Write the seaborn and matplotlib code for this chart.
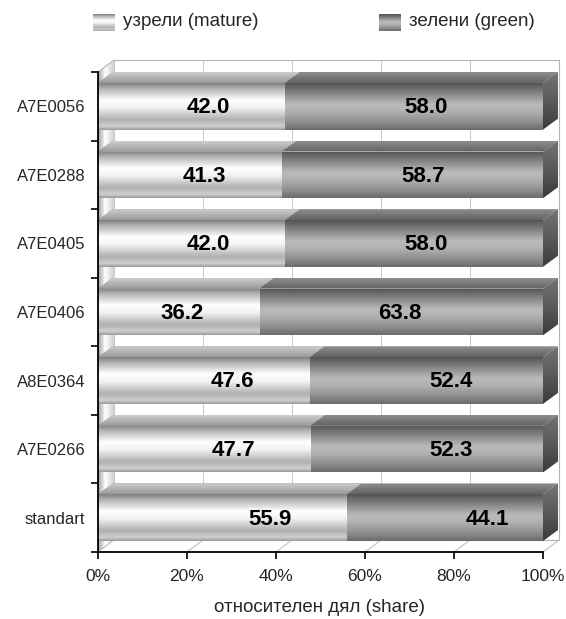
import numpy as np
import pandas as pd
import matplotlib
matplotlib.use("Agg")
import matplotlib.pyplot as plt
import seaborn as sns
from matplotlib.colors import LinearSegmentedColormap
from matplotlib.patches import Polygon

# ---- data -------------------------------------------------------------
categories = ["A7E0056", "A7E0288", "A7E0405", "A7E0406", "A8E0364", "A7E0266", "standart"]
mature = [42.0, 41.3, 42.0, 36.2, 47.6, 47.7, 55.9]
green = [58.0, 58.7, 58.0, 63.8, 52.4, 52.3, 44.1]
x_ticks = [0, 20, 40, 60, 80, 100]
x_tick_labels = ["0%", "20%", "40%", "60%", "80%", "100%"]
series_names = ["узрели (mature)", "зелени (green)"]
x_label = "относителен дял (share)"

sns.set_theme(style="white")
plt.rcParams["font.family"] = ["Liberation Sans", "DejaVu Sans"]

W, H = 566, 619
fig = plt.figure(figsize=(W / 100, H / 100), dpi=100)
fig.patch.set_facecolor("white")

# front plane of the plot box (pixels, origin top-left)
PX0, PX1, PY0, PY1 = 98, 543, 72, 552
ax = fig.add_axes([PX0 / W, 1 - PY1 / H, (PX1 - PX0) / W, (PY1 - PY0) / H])
ax.patch.set_visible(False)

df = pd.DataFrame({"line": categories, "mature": mature, "green": green})
df["total"] = df["mature"] + df["green"]

BAR_W = 0.68
sns.barplot(data=df, y="line", x="total", order=categories, orient="h",
            color="#888888", width=BAR_W, saturation=1, errorbar=None, ax=ax)
sns.barplot(data=df, y="line", x="mature", order=categories, orient="h",
            color="#eeeeee", width=BAR_W, saturation=1, errorbar=None, ax=ax)

n = len(categories)
ax.set_xlim(0, 100)
ax.set_ylim(n - 0.5, -0.5)

# pixel -> data scale factors for the oblique projection
sx = 100.0 / (PX1 - PX0)
sy = n / (PY1 - PY0)
bdx, bdy = 15 * sx, -11 * sy      # depth of the bars
wdx, wdy = 16 * sx, -12 * sy      # depth of walls / floor


def grad_poly(xy, stops, z, horizontal=False, clip_patch=None):
    cmap = LinearSegmentedColormap.from_list("g", stops)
    g = np.linspace(0, 1, 256)
    arr = g[None, :] if horizontal else g[:, None]
    xy = np.asarray(xy)
    x0, x1 = xy[:, 0].min(), xy[:, 0].max()
    y0, y1 = xy[:, 1].min(), xy[:, 1].max()
    if clip_patch is None:
        clip_patch = Polygon(xy, closed=True, facecolor="none", edgecolor="none", zorder=z)
        ax.add_patch(clip_patch)
        clip_patch.set_clip_on(False)
    im = ax.imshow(arr, cmap=cmap, vmin=0, vmax=1, extent=(x0, x1, y1, y0),
                   origin="upper", aspect="auto", interpolation="bilinear", zorder=z)
    im.set_clip_box(fig.bbox)
    im.set_clip_path(clip_patch)
    return im


# ---- walls and floor ---------------------------------------------------
top, bot = -0.5, n - 0.5
left_wall = [(0, top), (wdx, top + wdy), (wdx, bot + wdy), (0, bot)]
grad_poly(left_wall, [(0, "#9c9c9c"), (0.45, "#ffffff"), (1, "#d0d0d0")], 1, horizontal=True)
edge_kw = dict(color="#b4b4b4", lw=0.8, zorder=1.2, clip_on=False)
ax.plot([wdx, 100 + wdx], [top + wdy, top + wdy], **edge_kw)
ax.plot([100 + wdx, 100 + wdx], [top + wdy, bot + wdy], **edge_kw)
ax.plot([wdx, 100 + wdx], [bot + wdy, bot + wdy], **edge_kw)
ax.plot([0, wdx], [top, top + wdy], **edge_kw)
for xv in x_ticks:
    ax.plot([xv + wdx, xv + wdx], [top + wdy, bot + wdy], color="#c8c8c8", lw=0.7,
            zorder=1.1, clip_on=False)
    ax.plot([xv, xv + wdx], [bot, bot + wdy], color="#c0c0c0", lw=0.8, zorder=1.1,
            clip_on=False)

# ---- 3-D bars ----------------------------------------------------------
front_mature = [(0, "#7e7e7e"), (0.12, "#b4b4b4"), (0.36, "#ffffff"), (0.52, "#f2f2f2"),
                (0.78, "#b0b0b0"), (0.92, "#cfcfcf"), (1, "#9a9a9a")]
front_green = [(0, "#525252"), (0.15, "#767676"), (0.45, "#bababa"), (0.6, "#b2b2b2"),
               (0.85, "#8a8a8a"), (1, "#6a6a6a")]
top_mature = [(0, "#cdcdcd"), (1, "#9a9a9a")]
top_green = [(0, "#8e8e8e"), (1, "#626262")]
side_green = [(0, "#747474"), (0.5, "#5a5a5a"), (1, "#3a3a3a")]

patches = list(ax.patches)
total_bars = patches[:n]
mature_bars = patches[n:2 * n]

# data labels sit a fixed distance either side of the split between segments
lab_left, lab_right = 77 * sx, 141 * sx

for i in range(n):
    zb = 3 + (n - 1 - i) * 0.1
    for rect, ftop, fface in ((total_bars[i], top_green, front_green),
                              (mature_bars[i], top_mature, front_mature)):
        x0 = rect.get_x()
        x1 = x0 + rect.get_width()
        yt = min(rect.get_y(), rect.get_y() + rect.get_height())
        yb = max(rect.get_y(), rect.get_y() + rect.get_height())
        # top face
        grad_poly([(x0, yt), (x1, yt), (x1 + bdx, yt + bdy), (x0 + bdx, yt + bdy)],
                  ftop, zb)
        # front face
        rect.set_facecolor("none")
        rect.set_edgecolor("none")
        rect.set_zorder(zb + 0.05)
        grad_poly([(x0, yt), (x1, yt), (x1, yb), (x0, yb)], fface, zb + 0.04,
                  clip_patch=rect)
    # right end of the bar
    x1 = total_bars[i].get_x() + total_bars[i].get_width()
    yt = min(total_bars[i].get_y(), total_bars[i].get_y() + total_bars[i].get_height())
    yb = max(total_bars[i].get_y(), total_bars[i].get_y() + total_bars[i].get_height())
    grad_poly([(x1, yt), (x1 + bdx, yt + bdy), (x1 + bdx, yb + bdy), (x1, yb)],
              side_green, zb + 0.02)

    # value labels
    m = mature[i]
    ax.text(m - lab_left, i + 0.02, f"{m:.1f}", ha="center", va="center",
            fontsize=16, fontweight="bold", color="black", zorder=20)
    ax.text(m + lab_right, i + 0.02, f"{green[i]:.1f}", ha="center", va="center",
            fontsize=16, fontweight="bold", color="black", zorder=20)

# ---- axes --------------------------------------------------------------
for s in ("top", "right"):
    ax.spines[s].set_visible(False)
for s in ("left", "bottom"):
    ax.spines[s].set_visible(True)
    ax.spines[s].set_color("black")
    ax.spines[s].set_linewidth(1.3)
    ax.spines[s].set_zorder(30)

ax.set_xticks(x_ticks)
ax.set_xticklabels(x_tick_labels, fontsize=12.5)
ax.set_yticks(range(n))
ax.set_yticklabels(categories, fontsize=12)
ax.set_yticks(np.arange(-0.5, n, 1), minor=True)
ax.tick_params(axis="y", which="major", length=0, pad=9)
ax.tick_params(axis="y", which="minor", length=5, width=1.2, color="black", left=True)
ax.tick_params(axis="x", which="major", length=5, width=1.2, color="black", bottom=True, pad=7)
ax.set_xlabel("")
ax.set_ylabel("")
fig.text(320 / W, 1 - 607 / H, x_label, ha="center", va="center", fontsize=13.5)

# ---- legend ------------------------------------------------------------
legend_items = [(93, front_mature, series_names[0]), (379, front_green, series_names[1])]
for lx, stops, name in legend_items:
    lax = fig.add_axes([lx / W, 1 - 31 / H, 22 / W, 17 / H])
    lax.imshow(np.linspace(0, 1, 64)[:, None],
               cmap=LinearSegmentedColormap.from_list("l", stops),
               aspect="auto", interpolation="bilinear")
    lax.set_axis_off()
    fig.text((lx + 30) / W, 1 - 21 / H, name, ha="left", va="center", fontsize=13.5)

fig.savefig("out.png", dpi=100, facecolor="white")
